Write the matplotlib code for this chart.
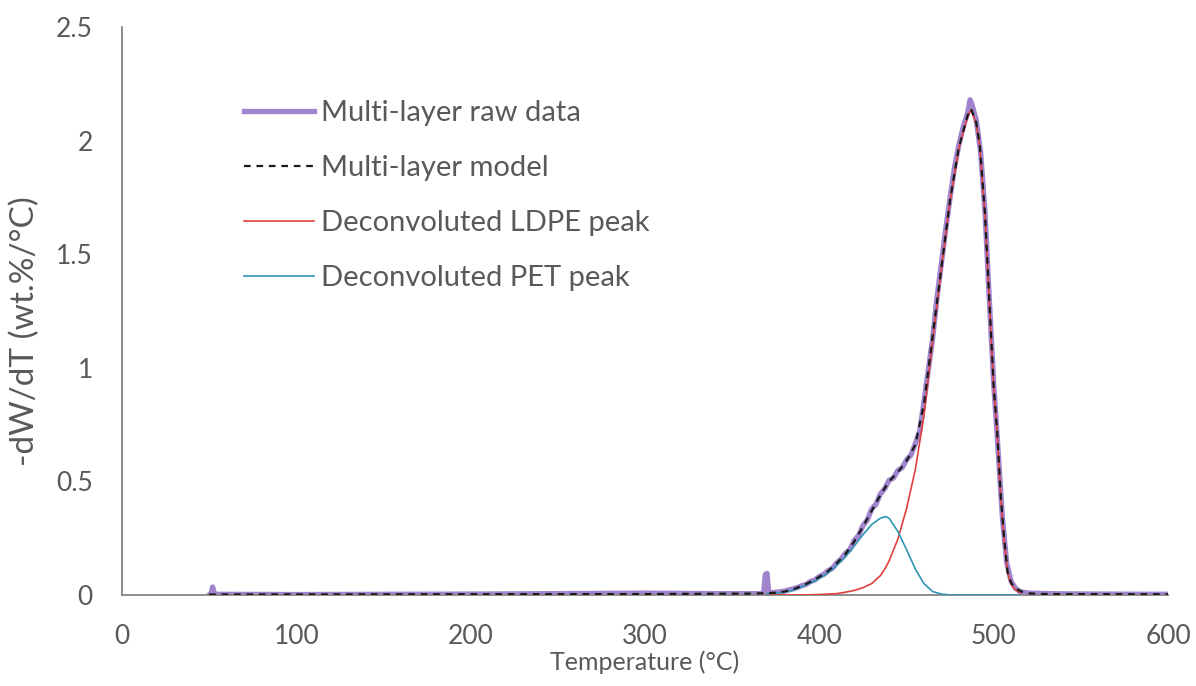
import matplotlib.pyplot as plt
import numpy as np
from matplotlib.ticker import FuncFormatter

plt.rcParams['font.family'] = ['Lato', 'DejaVu Sans']

# measured DTG signal of the multi-layer film
raw_temp = [50, 51, 52, 53, 55, 100, 150, 200, 250, 300, 340, 368, 369, 370, 371,
            372.5, 375, 377.5, 380, 382.5, 385, 387.5, 390, 392.5, 395, 397.5, 400,
            402.5, 405, 407.5, 410, 412.5, 415, 417.5, 420, 422.5, 425, 427.5, 430,
            432.5, 435, 437.5, 440, 442.5, 445, 447.5, 450, 452.5, 455, 457.5, 460,
            462.5, 465, 467.5, 470, 472.5, 475, 477.5, 480, 482.5, 485, 486.5, 487.5,
            490, 492.5, 495, 497.5, 500, 502.5, 505, 507.5, 510, 512.5, 515, 520,
            540, 560, 600]
raw_dtg = [0.0, 0.005, 0.035, 0.005, 0.003, 0.002, 0.003, 0.004, 0.006, 0.008, 0.006, 0.006, 0.09, 0.095, 0.01,
           0.010, 0.012, 0.014, 0.017, 0.022, 0.027, 0.033, 0.041, 0.047, 0.060, 0.066, 0.082,
           0.090, 0.107, 0.118, 0.142, 0.158, 0.184, 0.200, 0.240, 0.262, 0.305, 0.330, 0.378,
           0.400, 0.445, 0.468, 0.505, 0.515, 0.548, 0.560, 0.595, 0.615, 0.665, 0.720, 0.850,
           0.990, 1.130, 1.310, 1.460, 1.610, 1.750, 1.880, 1.980, 2.060, 2.120, 2.180, 2.160,
           2.090, 1.950, 1.690, 1.300, 0.930, 0.640, 0.340, 0.140, 0.060, 0.030, 0.015, 0.008,
           0.005, 0.004, 0.003]

# fitted model and its two deconvoluted components
model_temp = [50, 300, 360, 370, 375, 380, 385, 390, 395, 400, 405, 410, 415, 420, 425,
              430, 435, 440, 445, 450, 455, 460, 465, 470, 475, 480, 485, 487, 490, 492,
              495, 498, 500, 502, 504, 506, 508, 510, 512, 516, 520, 530, 600]
model_dtg = [0.002, 0.004, 0.006, 0.008, 0.010, 0.015, 0.025, 0.040, 0.058, 0.080, 0.105, 0.140, 0.180, 0.235, 0.300,
             0.370, 0.440, 0.500, 0.540, 0.590, 0.660, 0.840, 1.140, 1.440, 1.740, 1.970, 2.110, 2.140, 2.080, 1.980,
             1.680, 1.220, 0.920, 0.720, 0.440, 0.250, 0.100, 0.055, 0.030, 0.015, 0.007, 0.004, 0.003]

peak_temp = [370, 380, 385, 390, 395, 400, 405, 410, 415, 420, 425, 430, 435, 438, 440,
             445, 450, 455, 460, 465, 470, 475, 480, 485, 487, 490, 492, 495, 498, 500,
             502, 504, 506, 508, 510, 512, 515]
ldpe_dtg = [0.0, 0.0, 0.0, 0.0, 0.001, 0.002, 0.004, 0.006, 0.012, 0.020, 0.032, 0.050, 0.085, 0.120, 0.150,
            0.245, 0.380, 0.550, 0.790, 1.120, 1.435, 1.735, 1.965, 2.105, 2.135, 2.075, 1.975, 1.675, 1.215, 0.915,
            0.715, 0.435, 0.245, 0.095, 0.050, 0.025, 0.010]
pet_dtg = [0.005, 0.012, 0.022, 0.036, 0.053, 0.073, 0.097, 0.130, 0.168, 0.215, 0.265, 0.310, 0.338, 0.345, 0.338,
           0.280, 0.200, 0.115, 0.050, 0.015, 0.004, 0.0, 0.0, 0.0, 0.0, 0.0, 0.0, 0.0, 0.0, 0.0,
           0.0, 0.0, 0.0, 0.0, 0.0, 0.0, 0.0]

text_col = '#595959'
fs = 19

fig = plt.figure(figsize=(11.96, 6.86), dpi=100)
ax = fig.add_axes([0.102, 0.1327, 0.8746, 0.8279])

ax.plot(raw_temp, raw_dtg, color='#9677C8', lw=3.8, alpha=0.9, solid_joinstyle='round', label='Multi-layer raw data', zorder=2)
ax.plot(peak_temp, ldpe_dtg, color='#E0403C', lw=1.2, label='Deconvoluted LDPE peak', zorder=3)
ax.plot(peak_temp, pet_dtg, color='#2F95B5', lw=1.2, label='Deconvoluted PET peak', zorder=4)
ax.plot(model_temp, model_dtg, color='#1a1a1a', lw=1.6, ls=(0, (3, 2.6)), label='Multi-layer model', zorder=5)

ax.set_xlim(0, 600)
ax.set_ylim(0, 2.5)
ax.set_xticks(np.arange(0, 601, 100))
ax.set_yticks([0, 0.5, 1, 1.5, 2, 2.5])
ax.yaxis.set_major_formatter(FuncFormatter(lambda v, p: '{:g}'.format(v)))
ax.tick_params(length=0, labelsize=fs, labelcolor=text_col)
ax.tick_params(axis='x', pad=21)
ax.tick_params(axis='y', pad=21)

for s in ['top', 'right']:
  ax.spines[s].set_visible(False)
for s in ['left', 'bottom']:
  ax.spines[s].set_color('#868686')
  ax.spines[s].set_linewidth(1.3)

ax.set_xlabel('Temperature (°C)', fontsize=18, color=text_col, labelpad=1)
ax.set_ylabel('-dW/dT (wt.%/°C)', fontsize=24, color=text_col)
ax.yaxis.set_label_coords(-0.078, 0.465)

h, l = ax.get_legend_handles_labels()
order = [0, 3, 1, 2]
ax.legend([h[i] for i in order], [l[i] for i in order], loc='upper left',
          bbox_to_anchor=(0.117, 0.872), frameon=False, fontsize=21,
          labelcolor=text_col, handlelength=2.4, handletextpad=0.24,
          labelspacing=1.0, borderpad=0, borderaxespad=0)

fig.savefig('out.png', dpi=100)
